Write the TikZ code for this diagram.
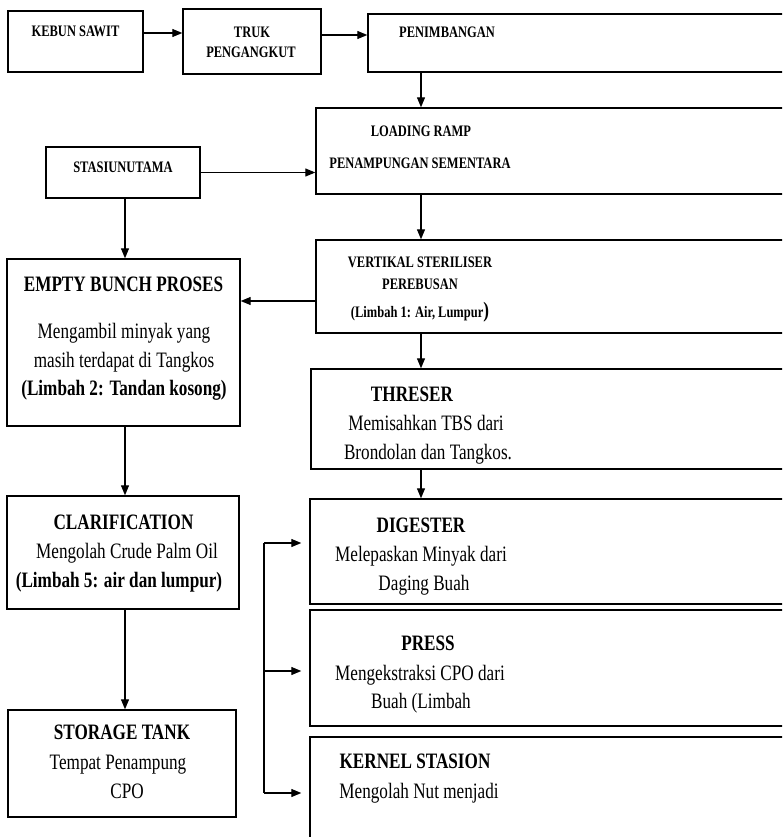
\documentclass[tikz,border=0pt]{standalone}
\usepackage{fontspec}
\newfontfamily\flowfont{Liberation Serif}[FakeStretch=0.78]
\usetikzlibrary{arrows.meta}
\tikzset{
  box/.style={draw, line width=1.4pt, inner sep=0pt},
  small/.style={anchor=base, inner sep=0pt, font=\flowfont\bfseries\fontsize{16}{20}\selectfont},
  title/.style={anchor=base, inner sep=0pt, font=\flowfont\bfseries\fontsize{22}{28}\selectfont},
  body/.style={anchor=base, inner sep=0pt, font=\flowfont\fontsize{22}{28}\selectfont},
  arr/.style={-{Triangle[length=10pt,width=8pt]}, line width=1.2pt}
}

\begin{document}
\begin{tikzpicture}[x=1pt, y=-1pt]
\useasboundingbox (0,0) rectangle (782,837);
\clip (0,0) rectangle (782,837);

% Boxes
\node[box, minimum width=135pt, minimum height=61pt] (kebun) at (75.5,41.5) {};
\node[box, minimum width=138pt, minimum height=65pt] (truk) at (252,41.5) {};
\node[box, minimum width=462pt, minimum height=58pt] (penim) at (599,43) {};
\node[box, minimum width=514pt, minimum height=86pt] (loading) at (573,151) {};
\node[box, minimum width=154pt, minimum height=51pt] (stasiun) at (123,172.5) {};
\node[box, minimum width=514pt, minimum height=93pt] (vertikal) at (573,286.5) {};
\node[box, minimum width=233pt, minimum height=167pt] (empty) at (123.5,342.5) {};
\node[box, minimum width=519pt, minimum height=100pt] (threser) at (570.5,419) {};
\node[box, minimum width=232pt, minimum height=113pt] (clarif) at (123,552.5) {};
\node[box, minimum width=520pt, minimum height=105pt] (digester) at (570,551.5) {};
\node[box, minimum width=520pt, minimum height=116pt] (press) at (570,668) {};
\node[box, minimum width=520pt, minimum height=143pt] (kernel) at (570,808.5) {};
\node[box, minimum width=228pt, minimum height=107pt] (storage) at (122,763.5) {};

% Texts
\node[small] (kebun-1) at (75.5,37) {KEBUN SAWIT};
\node[small] (truk-1) at (252,38) {TRUK};
\node[small] (truk-2) at (251,58) {PENGANGKUT};
\node[small] (penim-1) at (447,38) {PENIMBANGAN};
\node[small] (loading-1) at (421,137) {LOADING RAMP};
\node[small] (loading-2) at (420,168) {PENAMPUNGAN SEMENTARA};
\node[small] (stasiun-1) at (123,173) {STASIUNUTAMA};
\node[small] (vertikal-1) at (420,267) {VERTIKAL STERILISER};
\node[small] (vertikal-2) at (420,289) {PEREBUSAN};
\node[small] (vertikal-3) at (420,317) {(Limbah 1: Air, Lumpur{\fontsize{22}{22}\selectfont)}};
\node[title] (empty-1) at (123.5,291) {EMPTY BUNCH PROSES};
\node[body] (empty-2) at (124,338) {Mengambil minyak yang};
\node[body] (empty-3) at (124,367) {masih terdapat di Tangkos};
\node[title] (empty-4) at (124,395) {(Limbah 2: Tandan kosong)};
\node[title] (threser-1) at (412,401) {THRESER};
\node[body] (threser-2) at (426,430) {Memisahkan TBS dari};
\node[body] (threser-3) at (428,459) {Brondolan dan Tangkos.};
\node[title] (clarif-1) at (123.5,529) {CLARIFICATION};
\node[body] (clarif-2) at (127,558) {Mengolah Crude Palm Oil};
\node[title] (clarif-3) at (119,587) {(Limbah 5: air dan lumpur)};
\node[title] (digester-1) at (421,532) {DIGESTER};
\node[body] (digester-2) at (421,561) {Melepaskan Minyak dari};
\node[body] (digester-3) at (424,590) {Daging Buah};
\node[title] (press-1) at (428,650) {PRESS};
\node[body] (press-2) at (420,680) {Mengekstraksi CPO dari};
\node[body] (press-3) at (421,708) {Buah (Limbah};
\node[title] (kernel-1) at (415,768) {KERNEL STASION};
\node[body] (kernel-2) at (419,798) {Mengolah Nut menjadi};
\node[title] (storage-1) at (122,739) {STORAGE TANK};
\node[body] (storage-2) at (118,769) {Tempat Penampung};
\node[body] (storage-3) at (127,798) {CPO};

% Axes and ports
\coordinate (raxis) at (421,0);
\coordinate (laxis) at (125,0);
\coordinate (bus) at (264,0);
\coordinate (kebun-out) at ([yshift=8.5pt]kebun.east);
\coordinate (truk-out) at ([yshift=6.5pt]truk.east);
\coordinate (vertikal-out) at ([yshift=-14.5pt]vertikal.west);
\coordinate (digester-in) at ([yshift=8.5pt]digester.west);
\coordinate (press-in) at ([yshift=-3pt]press.west);
\coordinate (kernel-in) at ([yshift=15.5pt]kernel.west);

% Arrows
\draw[arr] (kebun-out) -- (kebun-out -| truk.west);
\draw[arr] (truk-out) -- (truk-out -| penim.west);
\draw[arr] (penim.south -| raxis) -- (loading.north -| raxis);
\draw[arr] (stasiun.east) -- (stasiun.east -| loading.west);
\draw[arr] (loading.south -| raxis) -- (vertikal.north -| raxis);
\draw[arr] (vertikal-out) -- (vertikal-out -| empty.east);
\draw[arr] (vertikal.south -| raxis) -- (threser.north -| raxis);
\draw[arr] (threser.south -| raxis) -- (digester.north -| raxis);
\draw[arr] (stasiun.south -| laxis) -- (empty.north -| laxis);
\draw[arr] (empty.south -| laxis) -- (clarif.north -| laxis);
\draw[arr] (clarif.south -| laxis) -- (storage.north -| laxis);
\draw[line width=1.2pt] (bus |- digester-in) -- (bus |- kernel-in);
\draw[arr, shorten >=8pt] (bus |- digester-in) -- (digester-in);
\draw[arr, shorten >=8pt] (bus |- press-in) -- (press-in);
\draw[arr, shorten >=8pt] (bus |- kernel-in) -- (kernel-in);
\end{tikzpicture}
\end{document}
